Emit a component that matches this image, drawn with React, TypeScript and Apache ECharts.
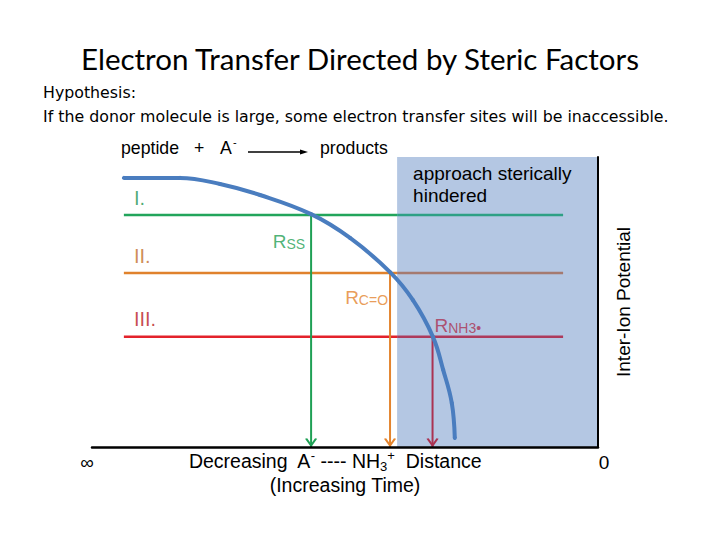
import { useEffect, useRef } from "react";
import * as echarts from "echarts";

// level lines (inter-ion potential at which each site can accept the electron)
const levelNames = ["I.", "II.", "III."];
const levelValues = [80, 60, 38];
const levelColors = ["#22a55b", "#e0822c", "#e3222b"];
const levelHinderedColors = ["#2ea085", "#a57a70", "#ad3a5c"];
const levelLabelColors = ["#1f9655", "#c2702c", "#b81c26"];
const levelStart = 6.3;
const levelEnd = 93.1;

// transfer sites, where the levels meet the potential curve
const siteX = [43.3, 58.9, 67.3];
const siteSub = ["SS", "C=O", "NH3\u2022"];
const siteColors = ["#1fa055", "#e3842e", "#aa3252"];

// inter-ion potential curve
const curveX = [6.3, 17.4, 25.3, 33.2, 43.3, 51.0, 58.9, 63.4, 67.4, 69.4, 71.1, 71.7];
const curveY = [92.8, 92.8, 90.7, 86.9, 80.3, 72.1, 60.3, 50.7, 37.9, 26.6, 15.2, 3.1];

const hinderedFrom = 60.3;
const axisEndLabels = ["\u221e", "0"];

const FONT = '"Liberation Sans", Arial, sans-serif';
const CHEVRON = "path://M0,0L5,7L10,0";
const CURVE_COLOR = "#4a7dbf";

export default function App() {
  const chartRef = useRef<HTMLDivElement>(null);

  useEffect(() => {
    if (!chartRef.current) return;
    const chart = echarts.init(chartRef.current, null, { renderer: "svg" });

    // each level line: the open part, then the part inside the hindered region
    const levelSeries = levelValues.flatMap((v, i) => [
      {
        name: levelNames[i],
        type: "line",
        z: 2,
        silent: true,
        symbol: "none",
        data: [
          [levelStart, v],
          [hinderedFrom, v],
        ],
        lineStyle: { color: levelColors[i], width: 2.5 },
      },
      {
        name: levelNames[i],
        type: "line",
        z: 2,
        silent: true,
        symbol: "none",
        data: [
          [hinderedFrom, v],
          [levelEnd, v],
        ],
        lineStyle: { color: levelHinderedColors[i], width: 2.5 },
      },
    ]);

    const arrowSeries = siteX.map((x, i) => ({
      type: "line",
      z: 3,
      silent: true,
      data: [
        { value: [x, levelValues[i]], symbol: "none" },
        {
          value: [x, 0],
          symbol: CHEVRON,
          symbolSize: [10, 7],
          symbolOffset: [0, -5],
        },
      ],
      lineStyle: { color: siteColors[i], width: 2 },
      itemStyle: { color: "none", borderColor: siteColors[i], borderWidth: 2 },
    }));

    const option: any = {
      animation: false,
      grid: { left: 92, right: 122, top: 157, bottom: 93 },
      xAxis: {
        type: "value",
        min: 0,
        max: 100,
        interval: 100,
        z: 5,
        axisLine: { lineStyle: { color: "#000", width: 2.5 } },
        axisTick: { show: false },
        splitLine: { show: false },
        axisLabel: {
          margin: 6,
          formatter: (v: number) =>
            v === 0 ? `{inf|${axisEndLabels[0]}}` : `{zero|${axisEndLabels[1]}}`,
          rich: {
            inf: { fontSize: 19, fontFamily: FONT, color: "#000", padding: [0, 10, 0, 0] },
            zero: { fontSize: 19, fontFamily: FONT, color: "#000", padding: [0, 0, 0, 12] },
          },
        },
        name:
          "{t|Decreasing  A}{sp|-}{t| ---- NH}{sb|3}{sp|+}{end|  Distance}\n{t|(Increasing Time)}",
        nameLocation: "middle",
        nameGap: 2,
        nameMoveOverlap: false,
        nameTextStyle: {
          rich: {
            t: { fontSize: 19.5, lineHeight: 24, fontFamily: FONT, color: "#000" },
            end: {
              fontSize: 19.5,
              lineHeight: 24,
              fontFamily: FONT,
              color: "#000",
              padding: [0, 20, 0, 0],
            },
            sp: { fontSize: 13, lineHeight: 12, verticalAlign: "top", fontFamily: FONT, color: "#000" },
            sb: { fontSize: 13, lineHeight: 12, verticalAlign: "bottom", fontFamily: FONT, color: "#000" },
          },
        },
      },
      yAxis: {
        type: "value",
        min: 0,
        max: 100,
        position: "right",
        z: 5,
        axisLine: { show: true, onZero: false, lineStyle: { color: "#000", width: 2 } },
        axisTick: { show: false },
        axisLabel: { show: false },
        splitLine: { show: false },
        name: "Inter-Ion Potential",
        nameLocation: "middle",
        nameRotate: 90,
        nameGap: 16,
        nameTextStyle: { fontSize: 19, fontFamily: FONT, color: "#000" },
      },
      graphic: [
        {
          type: "text",
          x: 360,
          y: 58,
          style: {
            text: "Electron Transfer Directed by Steric Factors",
            fontSize: 29.5,
            fontFamily: "Lato, sans-serif",
            fill: "#000",
            textAlign: "center",
            textVerticalAlign: "middle",
          },
        },
        {
          type: "text",
          x: 43,
          y: 92,
          style: {
            text: "Hypothesis:",
            fontSize: 15.8,
            fontFamily: '"DejaVu Sans", sans-serif',
            fill: "#000",
            textVerticalAlign: "middle",
          },
        },
        {
          type: "text",
          x: 43,
          y: 116,
          style: {
            text: "If the donor molecule is large, some electron transfer sites will be inaccessible.",
            fontSize: 15.8,
            fontFamily: '"DejaVu Sans", sans-serif',
            fill: "#000",
            textVerticalAlign: "middle",
          },
        },
        {
          type: "text",
          x: 121,
          y: 148,
          style: { text: "peptide", fontSize: 17.7, fontFamily: FONT, fill: "#000", textVerticalAlign: "middle" },
        },
        {
          type: "text",
          x: 194,
          y: 148,
          style: { text: "+", fontSize: 17.7, fontFamily: FONT, fill: "#000", textVerticalAlign: "middle" },
        },
        {
          type: "text",
          x: 220,
          y: 148,
          style: { text: "A", fontSize: 17.7, fontFamily: FONT, fill: "#000", textVerticalAlign: "middle" },
        },
        {
          type: "text",
          x: 233,
          y: 142,
          style: { text: "-", fontSize: 11, fontFamily: FONT, fill: "#000", textVerticalAlign: "middle" },
        },
        {
          type: "line",
          shape: { x1: 248, y1: 152, x2: 302, y2: 152 },
          style: { stroke: "#000", lineWidth: 1.5 },
        },
        {
          type: "polygon",
          shape: { points: [[300, 149.5], [308, 152], [300, 154.5]] },
          style: { fill: "#000" },
        },
        {
          type: "text",
          x: 320,
          y: 148,
          style: { text: "products", fontSize: 17.7, fontFamily: FONT, fill: "#000", textVerticalAlign: "middle" },
        },
      ],
      series: [
        ...levelSeries,
        ...arrowSeries,
        {
          type: "scatter",
          z: 6,
          silent: true,
          symbolSize: 0,
          data: levelValues.map((v, i) => ({
            value: [levelStart, v],
            label: {
              show: true,
              position: "right",
              distance: 10,
              offset: [0, -17.5],
              formatter: levelNames[i],
              fontSize: 20,
              fontFamily: FONT,
              color: levelLabelColors[i],
            },
          })),
        },
        {
          type: "scatter",
          z: 6,
          silent: true,
          symbolSize: 0,
          data: siteX.map((x, i) => ({
            value: [x, levelValues[i]],
            label: {
              show: true,
              position: i === 2 ? "right" : "left",
              distance: i === 0 ? 6 : 2,
              offset: i === 0 ? [0, 21] : i === 1 ? [0, 19] : [0, -17],
              formatter: `{r|R}{s|${siteSub[i]}}`,
              rich: {
                r: {
                  fontSize: 19,
                  lineHeight: 30,
                  verticalAlign: "bottom",
                  fontFamily: FONT,
                  color: siteColors[i],
                },
                s: {
                  fontSize: 14,
                  lineHeight: 14,
                  verticalAlign: "bottom",
                  fontFamily: FONT,
                  color: siteColors[i],
                },
              },
            },
          })),
        },
        {
          name: "Inter-Ion Potential",
          type: "line",
          z: 4,
          silent: true,
          smooth: 0.4,
          symbol: "circle",
          symbolSize: 4,
          showSymbol: true,
          data: curveX.map((x, i) => [x, curveY[i]]),
          lineStyle: { color: CURVE_COLOR, width: 4 },
          itemStyle: { color: CURVE_COLOR, borderWidth: 0 },
          markArea: {
            z: 1,
            silent: true,
            itemStyle: { color: "#b4c7e3", borderWidth: 0 },
            label: {
              show: true,
              position: "insideTopLeft",
              offset: [11, 0],
              formatter: "approach sterically\nhindered",
              fontSize: 19,
              lineHeight: 22,
              fontFamily: FONT,
              color: "#000",
            },
            data: [[{ xAxis: hinderedFrom, yAxis: 100 }, { xAxis: 100, yAxis: 0 }]],
          },
        },
      ],
    };

    chart.setOption(option);

    return () => {
      chart.dispose();
    };
  }, []);

  return (
    <div
      ref={chartRef}
      style={{ position: "fixed", left: 0, top: 0, width: 720, height: 540, background: "#fff" }}
    />
  );
}
